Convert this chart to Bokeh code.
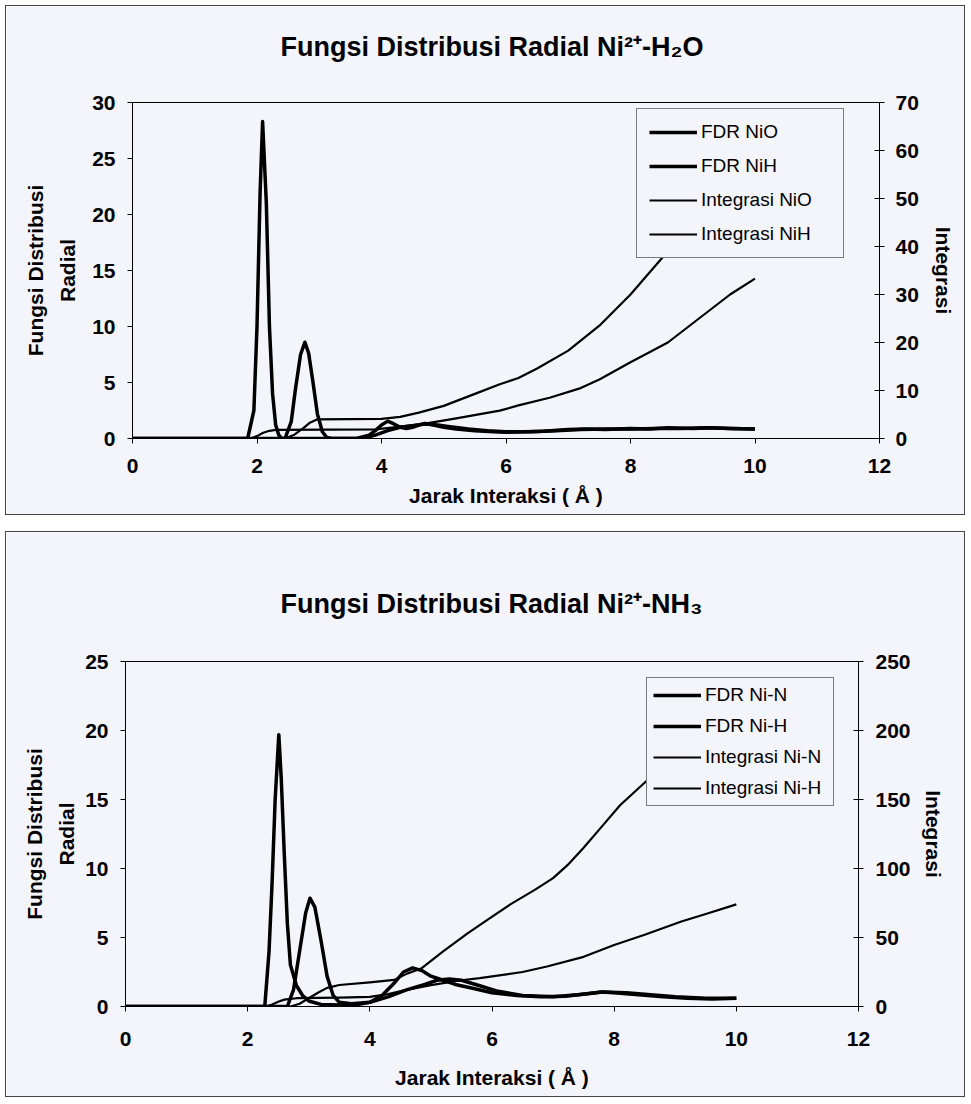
from bokeh.plotting import figure
from bokeh.models import Range1d, LinearAxis, FixedTicker, Legend, LegendItem, Title
from bokeh.embed import file_html
from bokeh.resources import INLINE

# ---------------- data: chart 1 (Ni2+ - H2O) ----------------
x_ticks = [0, 2, 4, 6, 8, 10, 12]
h2o_left_ticks = [0, 5, 10, 15, 20, 25, 30]
h2o_right_ticks = [0, 10, 20, 30, 40, 50, 60, 70]

r_nio = [0, 1.85, 1.95, 2.0, 2.05, 2.09, 2.15, 2.2, 2.25, 2.3, 2.35, 2.4, 3.6, 3.8, 3.9, 4.0, 4.1, 4.2, 4.3,
         4.4, 4.5, 4.6, 4.7, 4.8, 5.0, 5.2, 5.5, 5.8, 6.0, 6.3, 6.6, 7.0, 7.3, 7.6, 8.0, 8.3, 8.6, 9.0, 9.3,
         9.6, 10.0]
g_nio = [0, 0, 2.5, 10, 22, 28.3, 21, 10, 4, 1.2, 0.3, 0, 0, 0.3, 0.7, 1.2, 1.55, 1.3, 1.0,
         0.9, 1.0, 1.2, 1.35, 1.25, 1.0, 0.85, 0.7, 0.6, 0.55, 0.6, 0.65, 0.8, 0.85, 0.8, 0.9, 0.85, 0.95, 0.9, 0.95,
         0.9, 0.85]

r_nih = [0, 2.45, 2.55, 2.62, 2.7, 2.77, 2.83, 2.9, 2.97, 3.05, 3.12, 3.2, 3.7, 3.9, 4.1, 4.3, 4.5, 4.7, 4.9,
         5.1, 5.4, 5.7, 6.0, 6.4, 6.8, 7.2, 7.6, 8.0, 8.4, 8.8, 9.2, 9.6, 10.0]
g_nih = [0, 0, 1.5, 4.5, 7.5, 8.6, 7.6, 5.0, 2.2, 0.6, 0.1, 0, 0, 0.3, 0.7, 1.0, 1.15, 1.3, 1.2,
         1.05, 0.85, 0.7, 0.6, 0.6, 0.7, 0.8, 0.85, 0.85, 0.9, 0.9, 0.95, 0.9, 0.85]

r_int_nio = [0, 1.9, 2.0, 2.1, 2.2, 2.3, 3.9, 4.2, 4.7, 5.2, 5.9, 6.2, 6.7, 7.2, 7.5, 8.0, 8.6, 9.1, 9.6, 10.0]
n_nio = [0, 0, 0.5, 1.2, 1.6, 1.8, 1.9, 2.3, 3.1, 4.2, 5.8, 6.9, 8.5, 10.5, 12.3, 15.9, 20.0, 25.0, 30.0, 33.3]

r_int_nih = [0, 2.45, 2.6, 2.75, 2.85, 2.97, 4.0, 4.3, 4.6, 5.0, 5.5, 5.9, 6.2, 6.5, 7.0, 7.5, 8.0, 8.5, 9.0,
             9.5, 10.0]
n_nih = [0, 0, 0.8, 2.2, 3.3, 4.0, 4.1, 4.5, 5.4, 6.8, 9.3, 11.3, 12.6, 14.6, 18.3, 23.5, 30.0, 37.5, 46,
         55, 64]

# ---------------- data: chart 2 (Ni2+ - NH3) ----------------
nh3_left_ticks = [0, 5, 10, 15, 20, 25]
nh3_right_ticks = [0, 50, 100, 150, 200, 250]

r_nin = [0, 2.28, 2.35, 2.4, 2.45, 2.51, 2.55, 2.6, 2.65, 2.7, 2.8, 2.9, 3.0, 3.2, 3.5, 3.8, 4.0, 4.2, 4.4,
         4.55, 4.7, 4.85, 5.0, 5.2, 5.4, 5.7, 6.0, 6.4, 6.8, 7.2, 7.6, 7.8, 8.0, 8.4, 8.8, 9.2, 9.6, 10.0]
g_nin = [0, 0, 4, 9, 15, 19.7, 16.5, 11, 6, 3, 1.5, 0.8, 0.4, 0.15, 0.1, 0.15, 0.3, 0.8, 1.7,
         2.5, 2.8, 2.6, 2.2, 1.9, 1.6, 1.3, 1.0, 0.8, 0.7, 0.75, 0.95, 1.05, 1.0, 0.85, 0.7, 0.6, 0.55, 0.6]

r_nh = [0, 2.65, 2.75, 2.85, 2.95, 3.02, 3.1, 3.2, 3.3, 3.4, 3.5, 3.7, 4.0, 4.3, 4.6, 4.9, 5.1, 5.3, 5.5,
        5.8, 6.1, 6.5, 7.0, 7.4, 7.8, 8.2, 8.6, 9.0, 9.5, 10.0]
g_nh = [0, 0, 1.2, 4.0, 6.8, 7.85, 7.2, 4.8, 2.2, 0.8, 0.3, 0.2, 0.3, 0.7, 1.2, 1.6, 1.9, 2.0, 1.9,
        1.5, 1.1, 0.8, 0.7, 0.85, 1.05, 1.0, 0.85, 0.7, 0.6, 0.6]

r_int_nin = [0, 2.3, 2.4, 2.5, 2.6, 2.8, 3.5, 4.0, 4.3, 4.6, 5.0, 5.5, 5.8, 6.5, 6.9, 7.5, 8.0, 8.5, 9.1,
             9.5, 10.0]
n_nin = [0, 0, 1.5, 3.5, 5, 6, 6.5, 7, 9, 12, 15.5, 19, 20.5, 25, 29, 36, 44.6, 52, 61.6, 67, 74]

r_int_nh = [0, 2.7, 2.85, 3.0, 3.15, 3.3, 3.5, 4.0, 4.4, 4.62, 4.84, 5.2, 5.6, 5.93, 6.3, 6.7, 7.0, 7.24,
            7.5, 7.79, 8.1, 8.52, 9.0, 9.5, 10.0]
n_nh = [0, 0, 2, 6, 10, 13.5, 15.6, 17.5, 19.3, 24, 27.5, 40, 53, 63, 74, 84.5, 93, 102.6,
        115, 130, 146, 163, 185, 208, 230]

BG = "#f4f4fb"
FONT = "Liberation Sans"


def style_axis(ax, tick_in, tick_out, lab_standoff, axis_standoff):
    ax.axis_line_color = "black"
    ax.axis_line_width = 1
    ax.major_tick_line_color = "black"
    ax.major_tick_in = tick_in
    ax.major_tick_out = tick_out
    ax.minor_tick_line_color = None
    ax.major_label_text_font = FONT
    ax.major_label_text_font_size = "21px"
    ax.major_label_text_font_style = "bold"
    ax.major_label_text_color = "black"
    ax.major_label_standoff = lab_standoff
    ax.axis_label_text_font = FONT
    ax.axis_label_text_font_size = "21px"
    ax.axis_label_text_font_style = "bold"
    ax.axis_label_text_color = "black"
    ax.axis_label_standoff = axis_standoff


def make_chart(height, borders, ymax_left, ymax_right, left_ticks, right_ticks, series, labels,
               title, title_offset, title_gap, legend_xy, legend_pad, legend_spacing, legend_lw, stand):
    bl, br, bt, bb = borders
    p = figure(width=960, height=height, x_range=Range1d(0, 12), y_range=Range1d(0, ymax_left),
               output_backend="svg", toolbar_location=None, title=None,
               min_border_left=bl, min_border_right=br, min_border_top=bt, min_border_bottom=bb,
               background_fill_color=BG, border_fill_color=BG, outline_line_color="black")
    p.extra_y_ranges = {"int": Range1d(0, ymax_right)}
    p.xgrid.visible = False
    p.ygrid.visible = False

    # gap between the frame and the chart title, then the title itself
    p.add_layout(Title(text=" ", text_font_size="1px", standoff=title_gap), "above")
    p.add_layout(Title(text=title, align="left", offset=title_offset, standoff=2, text_font=FONT,
                       text_font_size="27px", text_font_style="bold", text_color="black"), "above")

    xa = p.xaxis[0]
    xa.ticker = FixedTicker(ticks=x_ticks)
    xa.axis_label = "Jarak Interaksi ( Å )"
    style_axis(xa, 0, 5, stand["xtick"], stand["x"])

    ya = p.yaxis[0]
    ya.ticker = FixedTicker(ticks=left_ticks)
    ya.axis_label = "Fungsi Distribusi\nRadial"
    ya.axis_label_text_line_height = 1.4
    style_axis(ya, 0, 5, stand["ltick"], stand["left"])

    ra = LinearAxis(y_range_name="int", ticker=FixedTicker(ticks=right_ticks), axis_label="Integrasi")
    style_axis(ra, 5, 5, stand["rtick"], stand["right"])
    p.add_layout(ra, "right")

    (rx1, ry1), (rx2, ry2), (rx3, ry3), (rx4, ry4) = series
    g1 = p.line(rx1, ry1, line_color="black", line_width=3.5, line_join="round")
    g2 = p.line(rx2, ry2, line_color="black", line_width=3.5, line_join="round")
    g3 = p.line(rx3, ry3, line_color="black", line_width=2.2, line_join="round", y_range_name="int")
    g4 = p.line(rx4, ry4, line_color="black", line_width=2.2, line_join="round", y_range_name="int")

    items = [LegendItem(label=lab, renderers=[g]) for lab, g in zip(labels, [g1, g2, g3, g4])]
    leg = Legend(items=items, location=legend_xy, orientation="vertical", padding=legend_pad,
                 spacing=legend_spacing, glyph_width=48, glyph_height=22, label_height=22,
                 label_width=legend_lw, label_standoff=4, label_text_font=FONT,
                 label_text_font_size="19px", label_text_color="black",
                 border_line_color="black", border_line_width=1,
                 background_fill_color=BG, background_fill_alpha=1.0, margin=0)
    p.add_layout(leg)
    p.styles = {"border": "1px solid #444"}
    return p


p1 = make_chart(
    510, (126, 87, 96, 78), 30, 70, h2o_left_ticks, h2o_right_ticks,
    [(r_nio, g_nio), (r_nih, g_nih), (r_int_nio, n_nio), (r_int_nih, n_nih)],
    ["FDR NiO", "FDR NiH", "Integrasi NiO", "Integrasi NiH"],
    "Fungsi Distribusi Radial Ni²⁺-H₂O", 148, 37, (504, 180), 12, 12, 130,
    {"xtick": 15, "x": 8, "ltick": 12, "left": 10, "rtick": 11, "right": 10})

p2 = make_chart(
    566, (119, 108, 129, 92), 25, 250, nh3_left_ticks, nh3_right_ticks,
    [(r_nin, g_nin), (r_nh, g_nh), (r_int_nin, n_nin), (r_int_nh, n_nh)],
    ["FDR Ni-N", "FDR Ni-H", "Integrasi Ni-N", "Integrasi Ni-H"],
    "Fungsi Distribusi Radial Ni²⁺-NH₃", 155, 39, (521, 200), 6, 9, 122,
    {"xtick": 20, "x": 17, "ltick": 12, "left": 4, "rtick": 12, "right": 8})

p1.margin = (5, 0, 0, 5)
p2.margin = (16, 0, 0, 5)
open("out.html", "w").write(file_html([p1, p2], INLINE))
